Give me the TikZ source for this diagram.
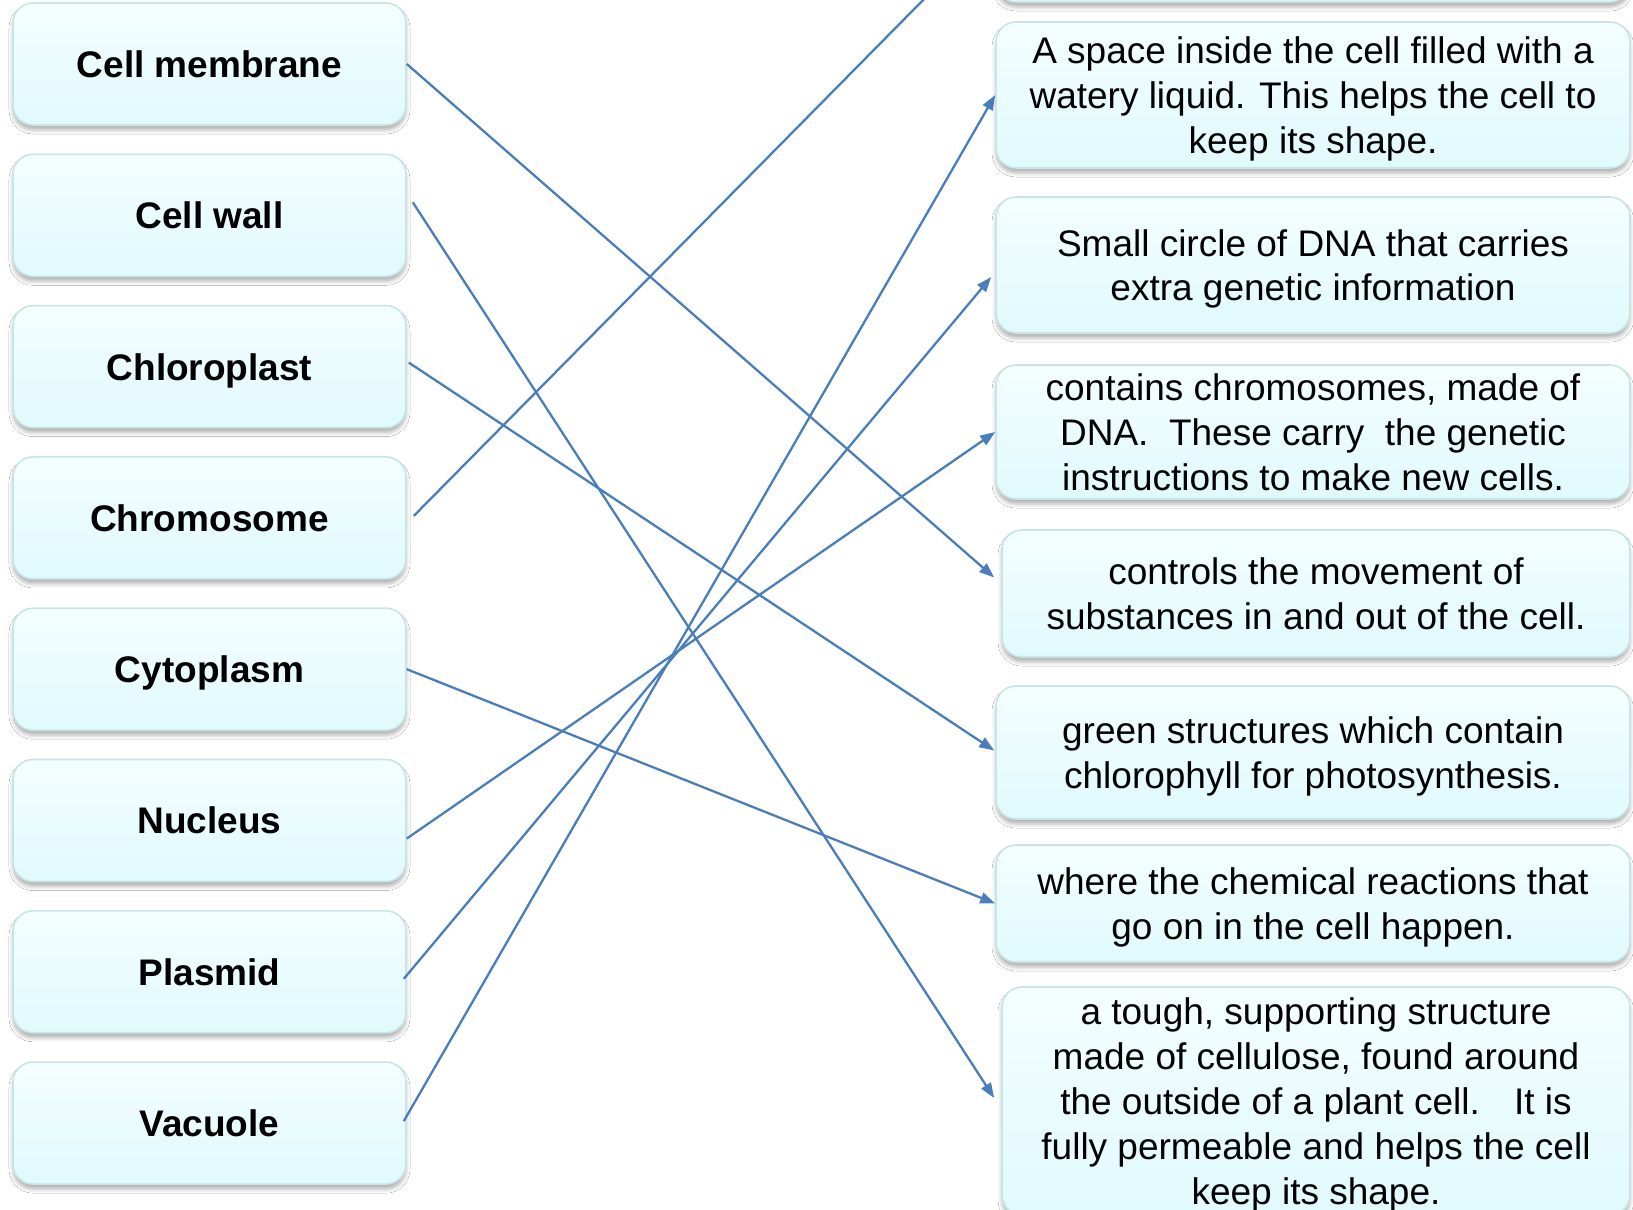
\documentclass[tikz,border=0pt]{standalone}
\usepackage{fontspec}
\setmainfont{Liberation Sans}
\usepackage{xcolor}
\usetikzlibrary{arrows.meta}
\usetikzlibrary{shadows.blur}

\definecolor{boxtop}{RGB}{244,254,255}
\definecolor{boxbottom}{RGB}{224,250,252}
\definecolor{boxedge}{RGB}{200,228,230}
\definecolor{linkblue}{RGB}{74,126,187}

\begin{document}
\begin{tikzpicture}[x=0.5pt,y=0.5pt,yscale=-1,xscale=1,
  term/.style={rectangle, rounded corners=10pt, draw=boxedge, line width=0.8pt,
    top color=boxtop, bottom color=boxbottom,
    blur shadow={shadow xshift=0pt, shadow yshift=-2.5pt, shadow blur radius=2pt, shadow opacity=30},
    minimum width=196.5pt, minimum height=61pt, inner sep=0pt, text depth=0pt,
    font=\fontsize{18.5}{22.4}\selectfont\bfseries},
  defn/.style={term, minimum width=317pt, align=center,
    font=\fontsize{18.5}{22.4}\selectfont},
  link/.style={draw=linkblue, line width=1.15pt, -{Triangle[length=7.5pt,width=5.5pt]}}]
%set diagram size 1633 x 1210
\path[use as bounding box, clip] (0,0) rectangle (1633,1210);
\fill[white] (0,0) rectangle (1633,1210);

% Terms
\node[term] (membrane) at (209.5,64) {Cell membrane};
\node[term] (wall) at (209.5,215.3) {Cell wall};
\node[term] (chloroplast) at (209.5,366.6) {Chloroplast};
\node[term] (chromosome) at (209.5,517.9) {Chromosome};
\node[term] (cytoplasm) at (209.5,669.2) {Cytoplasm};
\node[term] (nucleus) at (209.5,820.5) {Nucleus};
\node[term] (plasmid) at (209.5,971.8) {Plasmid};
\node[term] (vacuole) at (209.5,1123.1) {Vacuole};

% Descriptions
\node[defn, minimum height=75pt] (dchromo) at (1313,-73) {};
\node[defn, minimum height=73pt] (dvacuole) at (1313,95)
  {A space inside the cell filled with a\\watery liquid. This helps the cell to\\keep its shape.};
\node[defn, minimum height=68pt] (dplasmid) at (1313,265)
  {Small circle of DNA that carries\\extra genetic information};
\node[defn, minimum height=67pt] (dnucleus) at (1313,432)
  {contains chromosomes, made of\\DNA.~ These carry~ the genetic\\instructions to make new cells.};
\node[defn, minimum height=63.5pt, minimum width=314pt] (dmembrane) at (1316,593.5)
  {controls the movement of\\substances in and out of the cell.};
\node[defn, minimum height=66.5pt] (dchloro) at (1313,752.5)
  {green structures which contain\\chlorophyll for photosynthesis.};
\node[defn, minimum height=58.5pt] (dcyto) at (1313,903.5)
  {where the chemical reactions that\\go on in the cell happen.};
\node[defn, minimum height=114pt, minimum width=314pt] (dwall) at (1316,1101)
  {a tough, supporting structure\\made of cellulose, found around\\the outside of a plant cell.~~ It is\\fully permeable and helps the cell\\keep its shape.};

% Links
\draw[link] (membrane.east) -- ([shift={(-7,-16)}]dmembrane.west);
\draw[link] ([shift={(6,-13)}]wall.east) -- ([shift={(-7,-3)}]dwall.west);
\draw[link] ([shift={(2,-4)}]chloroplast.east) -- ([shift={(-1,-2)}]dchloro.west);
\draw[link] ([shift={(7,-2)}]chromosome.east) -- (dchromo.west);
\draw[link] (cytoplasm.east) -- (dcyto.west);
\draw[link] ([shift={(0,18)}]nucleus.east) -- (dnucleus.west);
\draw[link] ([shift={(-3,7)}]plasmid.east) -- ([shift={(-4,12)}]dplasmid.west);
\draw[link] ([shift={(-3,-2)}]vacuole.east) -- (dvacuole.west);

\end{tikzpicture}
\end{document}
